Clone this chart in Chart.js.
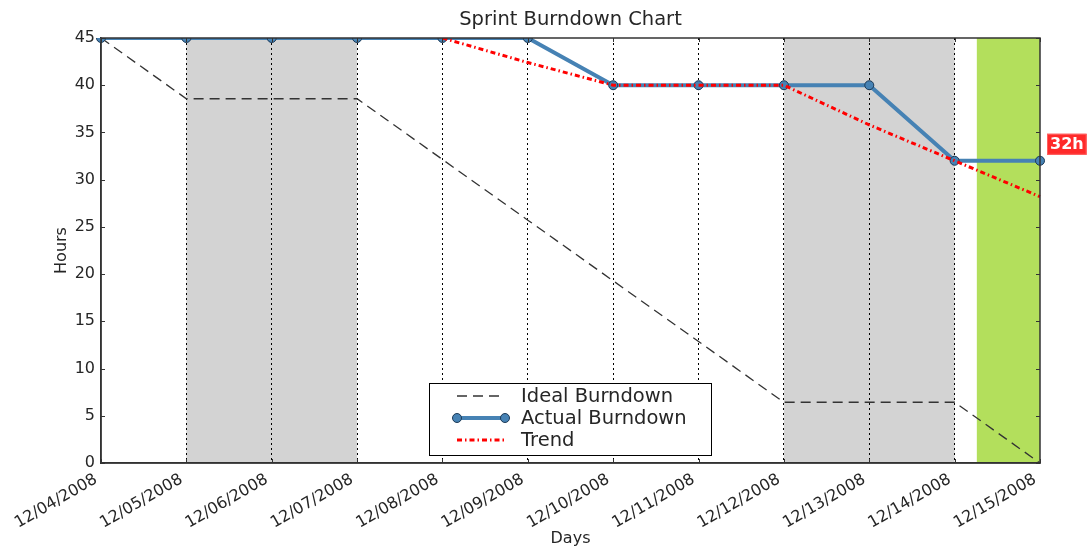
<!DOCTYPE html>
<html><head><meta charset="utf-8">
<script src="https://cdn.jsdelivr.net/npm/chart.js@4.4.0/dist/chart.umd.min.js"></script>
<style>html,body{margin:0;padding:0;background:#fff}#wrap{width:1090px;height:548px}</style>
</head><body><div id="wrap"><canvas id="c" width="1090" height="548"></canvas></div>
<script>
const days = ['12/04/2008','12/05/2008','12/06/2008','12/07/2008','12/08/2008','12/09/2008','12/10/2008','12/11/2008','12/12/2008','12/13/2008','12/14/2008','12/15/2008'];
const idealHours  = [45, 38.57, 38.57, 38.57, 32.14, 25.71, 19.29, 12.86, 6.43, 6.43, 6.43, 0];
const actualHours = [45, 45, 45, 45, 45, 45, 40, 40, 40, 40, 32, 32];
const trendHours  = [null, null, null, null, 45, 42.4, 40, 40, 40, 35.8, 32, 28.2];
const yTicks = [0, 5, 10, 15, 20, 25, 30, 35, 40, 45];
const weekendRanges = [['12/05/2008','12/07/2008'], ['12/12/2008','12/14/2008']];
const todayRange = [10.26, 11]; // in day-index units
const remainingLabel = '32h';

const FONT = '"DejaVu Sans", "Liberation Sans", sans-serif';
const TXT = '#262626';

const decor = {
  id: 'decor',
  beforeDraw(chart) {
    const {ctx, chartArea: a, scales: {x}} = chart;
    ctx.save();
    ctx.fillStyle = '#d3d3d3';
    weekendRanges.forEach(([s, e]) => {
      const x0 = x.getPixelForValue(days.indexOf(s)), x1 = x.getPixelForValue(days.indexOf(e));
      ctx.fillRect(x0, a.top, x1 - x0, a.bottom - a.top);
    });
    ctx.fillStyle = '#b3df5c';
    const g0 = x.getPixelForValue(todayRange[0]), g1 = x.getPixelForValue(todayRange[1]);
    ctx.fillRect(g0, a.top, g1 - g0, a.bottom - a.top);
    ctx.restore();
  },
  afterDatasetsDraw(chart) {
    const {ctx, chartArea: a, scales: {x, y}} = chart;
    ctx.save();
    ctx.strokeStyle = '#333';
    ctx.lineWidth = 1.5;
    ctx.strokeRect(a.left, a.top, a.right - a.left, a.bottom - a.top);
    ctx.lineWidth = 1;
    yTicks.forEach(v => {
      const py = Math.round(y.getPixelForValue(v)) + 0.5;
      ctx.beginPath();
      ctx.moveTo(a.left, py); ctx.lineTo(a.left + 4, py);
      ctx.moveTo(a.right, py); ctx.lineTo(a.right - 4, py);
      ctx.stroke();
    });
    days.forEach((d, i) => {
      const px = Math.round(x.getPixelForValue(i)) + 0.5;
      ctx.beginPath();
      ctx.moveTo(px, a.bottom); ctx.lineTo(px, a.bottom - 4);
      ctx.moveTo(px, a.top); ctx.lineTo(px, a.top + 4);
      ctx.stroke();
    });
    // legend
    const lx = 429, ly = 383, lw = 282, lh = 72;
    ctx.fillStyle = '#fff';
    ctx.fillRect(lx, ly, lw, lh);
    ctx.strokeStyle = '#000';
    ctx.lineWidth = 1;
    ctx.strokeRect(lx + 0.5, ly + 0.5, lw, lh);
    ctx.font = '19.5px ' + FONT;
    ctx.textBaseline = 'middle';
    ctx.textAlign = 'left';
    chart.data.datasets.forEach((ds, i) => {
      const cy = ly + 13 + i * 22;
      ctx.save();
      ctx.strokeStyle = ds.borderColor;
      ctx.lineWidth = ds.borderWidth;
      ctx.setLineDash(ds.borderDash || []);
      ctx.beginPath();
      ctx.moveTo(lx + 28, cy); ctx.lineTo(lx + 76, cy);
      ctx.stroke();
      ctx.setLineDash([]);
      if (ds.pointRadius) {
        [lx + 28, lx + 76].forEach(px => {
          ctx.beginPath();
          ctx.arc(px, cy, ds.pointRadius, 0, Math.PI * 2);
          ctx.fillStyle = ds.pointBackgroundColor;
          ctx.fill();
          ctx.lineWidth = ds.pointBorderWidth;
          ctx.strokeStyle = ds.pointBorderColor;
          ctx.stroke();
        });
      }
      ctx.restore();
      ctx.fillStyle = TXT;
      ctx.fillText(ds.label, lx + 92, cy + 1);
    });
    // remaining label
    const last = actualHours[actualHours.length - 1];
    const py = y.getPixelForValue(last);
    ctx.font = 'bold 16px ' + FONT;
    const tw = ctx.measureText(remainingLabel).width;
    const bx = a.right + 7, bh = 21, by = py - 6 - bh;
    ctx.fillStyle = '#ff2a2a';
    ctx.fillRect(bx, by, tw + 6, bh);
    ctx.strokeStyle = '#ff6060';
    ctx.lineWidth = 1;
    ctx.strokeRect(bx + 0.5, by + 0.5, tw + 5, bh - 1);
    ctx.fillStyle = '#fff';
    ctx.textAlign = 'left';
    ctx.fillText(remainingLabel, bx + 3, by + bh / 2 + 1);
    ctx.restore();
  }
};

new Chart(document.getElementById('c'), {
  type: 'line',
  data: {
    labels: days,
    datasets: [
      { label: 'Ideal Burndown', data: idealHours, borderColor: '#333333', borderWidth: 1.3,
        borderDash: [10, 6], pointRadius: 0, order: 3, tension: 0 },
      { label: 'Actual Burndown', data: actualHours, borderColor: '#4682b4', borderWidth: 4,
        pointRadius: 4.5, pointBackgroundColor: '#4682b4', pointBorderColor: '#1d3a57', pointBorderWidth: 1,
        order: 2, tension: 0 },
      { label: 'Trend', data: trendHours, borderColor: '#ff0000', borderWidth: 3,
        borderDash: [5, 3, 1.5, 3], pointRadius: 0, order: 1, tension: 0, spanGaps: false }
    ]
  },
  options: {
    responsive: false,
    animation: false,
    devicePixelRatio: 1,
    layout: { padding: { left: 51, right: 0, top: 0, bottom: 0 } },
    plugins: {
      legend: { display: false },
      tooltip: { enabled: false },
      title: { display: true, text: 'Sprint Burndown Chart', color: TXT,
        font: { family: FONT, size: 19.5, weight: 'normal' }, padding: { top: 8, bottom: 6.6 } }
    },
    scales: {
      x: {
        type: 'category', offset: false,
        grid: { color: c => (c.index === 0 || c.index === days.length - 1) ? 'rgba(0,0,0,0)' : '#000',
                lineWidth: 1, drawTicks: false },
        border: { display: true, color: '#333', width: 1.5, dash: [2, 3] },
        ticks: { autoSkip: false, maxRotation: 30, minRotation: 30, color: TXT, padding: 7, labelOffset: -5,
                 font: { family: FONT, size: 16 } },
        title: { display: true, text: 'Days', color: TXT, font: { family: FONT, size: 16 }, padding: 0 },
        afterFit: s => { s.height = 85; }
      },
      y: {
        min: 0, max: 45,
        afterBuildTicks: s => { s.ticks = yTicks.map(v => ({ value: v })); },
        grid: { drawOnChartArea: false, drawTicks: false },
        border: { display: true, color: '#333', width: 1.5 },
        ticks: { color: TXT, padding: 6, font: { family: FONT, size: 16 } },
        title: { display: true, text: 'Hours', color: TXT, font: { family: FONT, size: 16 }, padding: 1 },
        afterFit: s => { s.width = 50; }
      },
      yRight: {
        position: 'right', min: 0, max: 45,
        grid: { display: false, drawOnChartArea: false, drawTicks: false },
        border: { display: false },
        ticks: { display: false },
        afterFit: s => { s.width = 50; }
      }
    }
  },
  plugins: [decor]
});
</script>
</body></html>
